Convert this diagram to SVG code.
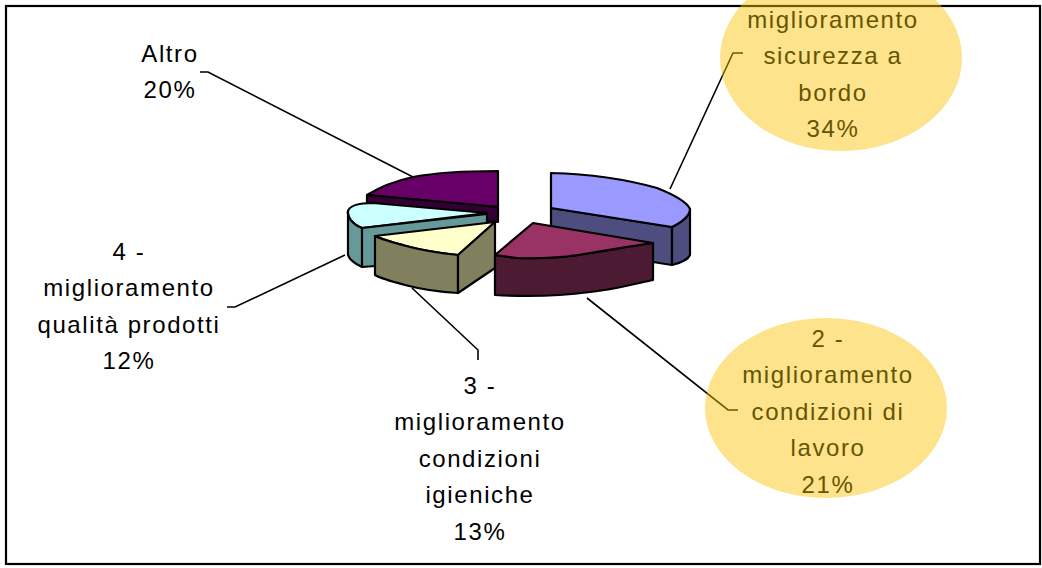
<svg xmlns="http://www.w3.org/2000/svg" width="1042" height="568" viewBox="0 0 1042 568">
<style>
.lbl{font-family:"Liberation Sans",Arial,sans-serif;font-size:24px;letter-spacing:1.6px;text-anchor:middle;fill:#000}
.lbly{font-family:"Liberation Sans",Arial,sans-serif;font-size:24px;letter-spacing:1.6px;text-anchor:middle;fill:#665500}
.lead{fill:none;stroke:#000;stroke-width:1.6}
.pie{stroke:#000;stroke-width:2.2;stroke-linejoin:round}
.bub{fill:#FAC000;fill-opacity:0.45}
</style>
<rect x="6" y="6" width="1034" height="558" fill="#fff" stroke="#000" stroke-width="2.2"/>
<g id="connectors">
<polyline class="lead" points="200,72 208,72 413,177"/>
<polyline class="lead" points="227,307 235,307 345,255"/>
<polyline class="lead" points="478,360 478,350 412,288"/>
<polyline class="lead" points="587,298 728,410 738,410"/>
<polyline class="lead" points="670,189 733,53 743,53"/>
</g>
<g id="slice-altro">
<path class="pie" fill="#660066" d="M498,207 L498,171 C470,171 440,172 413,177 C395,181 378,188 367,195 Z"/>
<path class="pie" fill="#330033" d="M367,195 L498,207 L498,222 L367,210 Z"/>
</g>
<g id="slice-4">
<path class="pie" fill="#CCFFFF" d="M487,213 L373,203 C360,203 350,205 348,211 C347,217 352,224 362,228 Z"/>
<path class="pie" fill="#669999" d="M348,211 C347,217 352,224 362,228 L487,214 L487,258 L362,267 C355,264 349,259 348,255 Z"/>
<line class="pie" x1="362" y1="228" x2="362" y2="267"/>
</g>
<g id="slice-3">
<path class="pie" fill="#FFFFCC" d="M375,236 L495,222 L458,255 C440,253 425,251 410,247 C395,243 383,240 375,236 Z"/>
<path class="pie" fill="#80805F" d="M375,236 C383,240 395,243 410,247 C425,251 440,253 458,255 L458,293 C440,292 420,289 405,285 C390,281 380,278 375,275 Z"/>
<path class="pie" fill="#80805F" d="M458,255 L495,222 L495,268 L458,293 Z"/>
</g>
<g id="slice-1">
<path class="pie" fill="#4D4D80" d="M551,208 L672,227 L672,265 L551,246 Z"/>
<path class="pie" fill="#4D4D80" d="M672,227 C684,221 690,215 690,209 L690,255 C688,260 680,263 672,265 Z"/>
<path class="pie" fill="#9999FF" d="M551,208 L551,173 C590,174 625,179 657,188 C672,194 687,202 690,209 C690,215 684,221 672,227 Z"/>
</g>
<g id="slice-2">
<path class="pie" fill="#4D1A33" d="M495,255 L517,258 C545,259 570,257 590,253 C610,250 630,246 653,243 L653,280 C630,285 610,290 590,292 C560,296 530,297 495,295 Z"/>
<path class="pie" fill="#993366" d="M533,223 L653,243 C630,246 610,250 590,253 C570,257 545,259 517,258 L495,255 Z"/>
</g>
<g id="label-altro">
<text class="lbl" x="170" y="62">Altro</text>
<text class="lbl" x="170" y="98">20%</text>
</g>
<g id="label-4">
<text class="lbl" x="129" y="260">4 -</text>
<text class="lbl" x="129" y="296">miglioramento</text>
<text class="lbl" x="129" y="332.5">qualità prodotti</text>
<text class="lbl" x="129" y="368.5">12%</text>
</g>
<g id="label-3">
<text class="lbl" x="480" y="393.5">3 -</text>
<text class="lbl" x="480" y="430">miglioramento</text>
<text class="lbl" x="480" y="466.5">condizioni</text>
<text class="lbl" x="480" y="503">igieniche</text>
<text class="lbl" x="480" y="539.5">13%</text>
</g>
<g id="label-1">
<ellipse class="bub" cx="841" cy="58" rx="121" ry="93"/>
<text class="lbly" x="833" y="28">miglioramento</text>
<text class="lbly" x="833" y="64">sicurezza a</text>
<text class="lbly" x="833" y="100.5">bordo</text>
<text class="lbly" x="833" y="137">34%</text>
</g>
<g id="label-2">
<ellipse class="bub" cx="826" cy="408" rx="121" ry="90"/>
<text class="lbly" x="828" y="346.5">2 -</text>
<text class="lbly" x="828" y="383">miglioramento</text>
<text class="lbly" x="828" y="419.5">condizioni di</text>
<text class="lbly" x="828" y="456">lavoro</text>
<text class="lbly" x="828" y="492.5">21%</text>
</g>
</svg>
